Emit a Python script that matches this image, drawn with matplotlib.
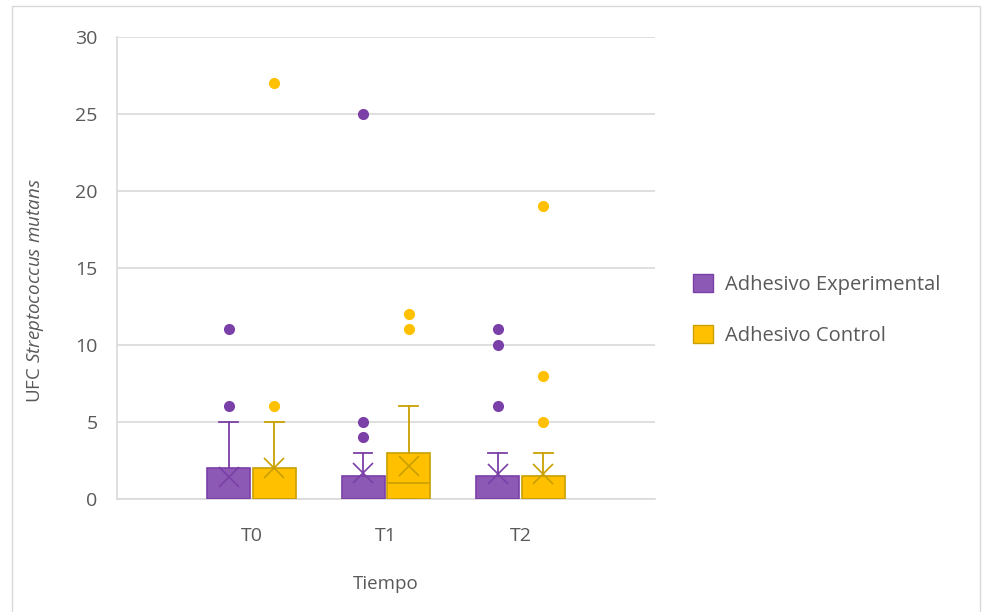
import matplotlib.pyplot as plt
from matplotlib.patches import Rectangle, Patch

plt.rcParams['font.family'] = ['Open Sans', 'DejaVu Sans']
plt.rcParams['mathtext.fontset'] = 'custom'
plt.rcParams['mathtext.rm'] = 'Open Sans'
plt.rcParams['mathtext.it'] = 'Open Sans:italic'

tiempos = ['T0', 'T1', 'T2']
series = ['Adhesivo Experimental', 'Adhesivo Control']

# box stats
exp_q1 = [0, 0, 0]
exp_med = [0, 0, 0]
exp_q3 = [2, 1.5, 1.5]
exp_whishi = [5, 3, 3]
exp_mean = [1.4, 1.7, 1.6]
exp_fliers = [[6, 11], [4, 5, 25], [6, 10, 11]]

ctl_q1 = [0, 0, 0]
ctl_med = [0, 1, 0]
ctl_q3 = [2, 3, 1.5]
ctl_whishi = [5, 6, 3]
ctl_mean = [2.0, 2.1, 1.6]
ctl_fliers = [[6, 27], [11, 12], [5, 8, 19]]

fills = ['#8C5AB4', '#FFC000']
edges = ['#7B3FA8', '#C9A000']
gris = '#595959'


def stats(q1, med, q3, hi, mean, fl):
    out = []
    for i in range(len(q1)):
        out.append({'q1': q1[i], 'med': med[i], 'q3': q3[i], 'whislo': q1[i],
                    'whishi': hi[i], 'mean': mean[i], 'fliers': fl[i]})
    return out


fig = plt.figure(figsize=(9.82, 6.12), dpi=100)
ax = fig.add_axes([0.119, 0.185, 0.548, 0.7545])

datos = [stats(exp_q1, exp_med, exp_q3, exp_whishi, exp_mean, exp_fliers),
         stats(ctl_q1, ctl_med, ctl_q3, ctl_whishi, ctl_mean, ctl_fliers)]
offsets = [-0.17, 0.17]
for k in range(2):
    pos = [i + 1 + offsets[k] for i in range(3)]
    ax.bxp(datos[k], positions=pos, widths=0.32, patch_artist=True,
           showmeans=True, showfliers=True,
           boxprops=dict(facecolor=fills[k], edgecolor=edges[k], linewidth=1.2),
           medianprops=dict(color=edges[k], linewidth=1.2),
           whiskerprops=dict(color=edges[k], linewidth=1.3),
           capprops=dict(color=edges[k], linewidth=1.3),
           capwidths=0.14,
           meanprops=dict(marker='x', markeredgecolor=edges[k], markersize=14, markeredgewidth=1.2),
           flierprops=dict(marker='o', markerfacecolor=edges[k] if k == 0 else fills[k],
                           markeredgecolor=edges[k] if k == 0 else fills[k], markersize=7),
           zorder=3)

ax.set_xlim(0, 4)
ax.set_ylim(0, 30)
ax.set_yticks(range(0, 31, 5))
ax.set_xticks([1, 2, 3])
ax.set_xticklabels(tiempos)
ax.yaxis.grid(True, color='#D9D9D9', linewidth=1.2)
ax.axhline(0, color='#D9D9D9', linewidth=1.2, clip_on=False, zorder=1)
ax.set_axisbelow(True)
for s in ax.spines.values():
    s.set_visible(False)
ax.spines['left'].set_visible(True)
ax.spines['left'].set_color('#D9D9D9')
ax.spines['left'].set_linewidth(1.2)
ax.tick_params(length=0, labelsize=14, colors=gris, pad=14)
ax.tick_params(axis='x', pad=20)

ax.set_xlabel('Tiempo', fontsize=13.5, color=gris, labelpad=22)
ax.set_ylabel(r'UFC $\it{Streptococcus\ mutans}$', fontsize=13.5, color=gris)
ax.yaxis.set_label_coords(-0.132, 0.45)

handles = [Patch(facecolor=fills[k], edgecolor=edges[k], label=series[k]) for k in range(2)]
fig.legend(handles=handles, loc='center left', bbox_to_anchor=(0.687, 0.493), frameon=False,
           fontsize=14.5, labelcolor=gris, handlelength=1.0, handleheight=1.0,
           labelspacing=1.5, handletextpad=0.6)

fig.patches.append(Rectangle((0.012, -0.01), 0.986, 1.0, transform=fig.transFigure,
                             fill=False, edgecolor='#D9D9D9', linewidth=1))

fig.savefig('out.png')
